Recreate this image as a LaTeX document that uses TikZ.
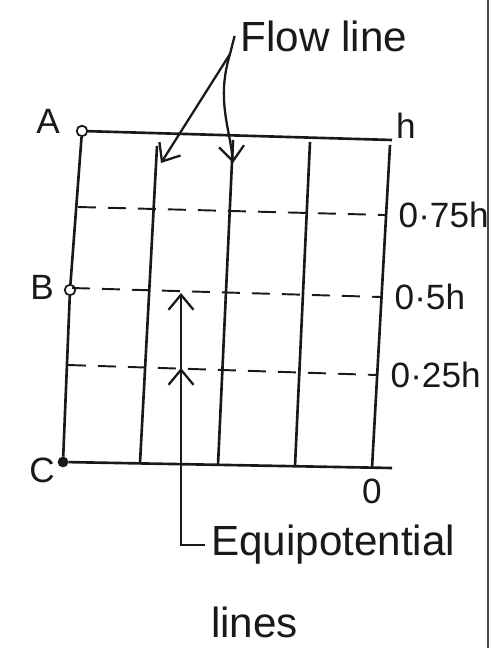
\documentclass[tikz,border=0pt]{standalone}
\usepackage{fontspec}
\setmainfont{Liberation Sans}
\usepackage{tikz}
\usetikzlibrary{arrows.meta,positioning,calc}
\definecolor{inkBlack}{RGB}{25,25,25}
\definecolor{edgeGray}{RGB}{70,70,70}

\begin{document}
\begin{tikzpicture}[x=0.2mm,y=-0.2mm,
    gridline/.style={line width=1.5pt,inkBlack},
    eqline/.style={line width=1.1pt,inkBlack,dash pattern=on 3.6mm off 2.4mm},
    dotnode/.style={circle,draw=inkBlack,line width=1pt,inner sep=0pt,minimum size=6pt},
    lbl/.style={font=\fontsize{20}{22}\selectfont,text=inkBlack},
    hand/.style={font=\fontsize{24}{28}\selectfont,text=inkBlack},
    flowtip/.style={-{Straight Barb[length=3mm,width=5mm]},line width=1.3pt,inkBlack}]
  \useasboundingbox (0,0) rectangle (497,648);

  % corner points A, B, C
  \node[dotnode] (A) at (82,131) {};
  \node[dotnode] (B) at (70,290) {};
  \node[dotnode,fill=inkBlack,minimum size=5pt] (C) at (63,462) {};
  \node[lbl] (lblA) at (48,121) {A};
  \node[lbl] (lblB) at (42,287) {B};
  \node[lbl] (lblC) at (42,470) {C};

  % outline
  \coordinate (hR) at (392,140);
  \coordinate (oR) at (392,468);
  \draw[gridline] (A) -- (hR);
  \draw[gridline] (C) -- (oR);
  \draw[gridline] (A) -- (B) -- (C);
  \node[lbl] (lblh) at (406,126) {h};

  % flow lines
  \foreach \i/\xt/\yt/\xb/\yb in {1/157/146/140/463, 2/233/140/218/465, 3/310/142/295/466, 4/390/145/372/468} {
    \coordinate (t\i) at (\xt,\yt);
    \coordinate (b\i) at (\xb,\yb);
    \draw[gridline] (t\i) -- (b\i);
  }
  \node[lbl,below=1mm of b4] (lblzero) {0};

  % equipotential lines
  \foreach \n/\xl/\yl/\xr/\yr/\txt in {q/78/207/385/215/{0·75h}, m/72/288/381/297/{0·5h}, s/68/365/377/375/{0·25h}} {
    \coordinate (l\n) at (\xl,\yl);
    \coordinate (r\n) at (\xr,\yr);
    \draw[eqline] (l\n) -- (r\n);
    \node[lbl,right=1.5mm of r\n] (v\n) {\txt};
  }

  % flow line label
  \node[hand] (flow) at (324,36) {Flow line};
  \coordinate (fl) at (230,54);
  \coordinate (fa1) at (161,163);
  \coordinate (fa2) at (233,163);
  \draw[line width=1.3pt,inkBlack] (fl) -- (flow.west);
  \draw[flowtip] (fl) -- (fa1);
  \draw[flowtip] (fl) .. controls (216,100) and (230,128) .. (fa2);

  % equipotential label
  \node[hand,anchor=west] (eq) at (205,545) {Equipotential};
  \node[hand,anchor=west] (eqb) at (205,622) {lines};
  \coordinate (ehalf) at (181,293);
  \coordinate (equart) at (181,368);
  \coordinate (ecorner) at (181,545);
  \draw[flowtip] (eq.west) -| (ehalf);
  \draw[flowtip] (ecorner) -- (equart);

  % page edge
  \coordinate (edgeT) at (488,0);
  \coordinate (edgeB) at (488,648);
  \draw[line width=1.2pt,edgeGray] (edgeT) -- (edgeB);
\end{tikzpicture}
\end{document}
